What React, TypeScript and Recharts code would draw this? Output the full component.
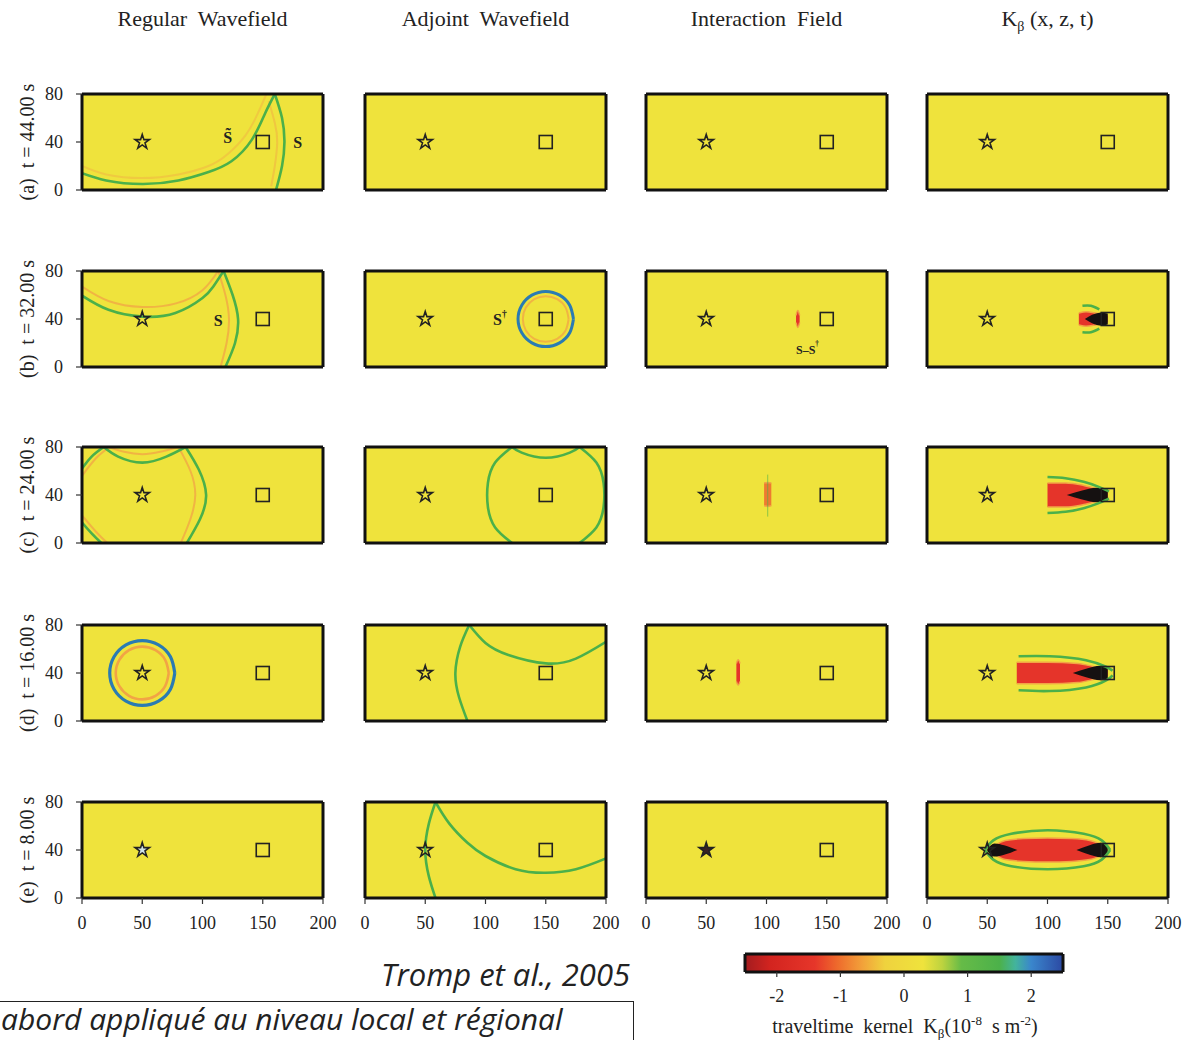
import React from 'react';
import { ComposedChart, Line, Area, Scatter, XAxis, YAxis, CartesianGrid } from 'recharts';

// axes of every panel (distance in km)
const xTicks = [0, 50, 100, 150, 200];
const yTicks = [0, 40, 80];
const colorbarTicks = [-2, -1, 0, 1, 2];

const columnTitles = ['Regular  Wavefield', 'Adjoint  Wavefield', 'Interaction  Field', 'K'];
const rowLabels = ['(a)  t = 44.00 s', '(b)  t = 32.00 s', '(c)  t = 24.00 s', '(d)  t = 16.00 s', '(e)  t = 8.00 s'];

const sourcePt = [{ x: 50, y: 40 }];
const receiverPt = [{ x: 150, y: 40 }];

// wavefronts, [x, z]
const regA_surf = [[0, 14], [20, 8], [50, 5], [80, 8], [105, 15], [124, 24], [141, 42], [152, 64], [160, 80]];
const regA_surfLag = [[0, 20], [20, 13], [50, 10], [80, 13], [105, 20], [121, 30], [136, 46], [146, 64], [153, 80]];
const regA_direct = [[160, 80], [166, 60], [168, 40], [166, 20], [161, 0]];
const regA_directLag = [[155, 74], [160, 56], [162, 40], [160, 20], [157, 3]];

const regB_surf = [[0, 59.5], [22, 47.7], [50, 42], [77.5, 45], [100, 57.5], [109, 67], [117.5, 80]];
const regB_surfLag = [[0, 67], [22, 55], [50, 50], [78, 53], [100, 64], [113, 80]];
const regB_direct = [[117.5, 80], [125, 60], [129.5, 40], [127, 20], [119, 0]];
const regB_directLag = [[113, 80], [119, 60], [122, 40], [120, 20], [115, 0]];

const regC_topLeft = [[0, 62], [8, 72], [18, 80]];
const regC_botLeft = [[0, 17], [8, 8], [16, 0]];
const regC_right = [[86, 80], [97, 61], [103, 40], [98, 20], [87, 0]];
const regC_surf = [[18, 80], [30, 72], [50, 67], [70, 72], [86, 80]];
const regC_rightLag = [[80, 80], [90, 60], [94, 40], [90, 20], [82, 0]];
const regC_topLeftLag = [[0, 56], [12, 71], [23, 80]];
const regC_botLeftLag = [[0, 23], [12, 9], [21, 0]];
const regC_surfLag = [[22, 80], [35, 76], [50, 74], [65, 76], [80, 80]];

const regD_outer = [[77, 40], [73.4, 53.5], [63.5, 63.4], [50, 67], [36.5, 63.4], [26.6, 53.5], [23, 40], [26.6, 26.5], [36.5, 16.6], [50, 13], [63.5, 16.6], [73.4, 26.5], [77, 40]];
const regD_inner = [[72, 40], [69, 51], [61, 59], [50, 62], [39, 59], [31, 51], [28, 40], [31, 29], [39, 21], [50, 18], [61, 21], [69, 29], [72, 40]];

const adjB_outer = [[173, 40], [169.9, 51.5], [161.5, 59.9], [150, 63], [138.5, 59.9], [130.1, 51.5], [127, 40], [130.1, 28.5], [138.5, 20.1], [150, 17], [161.5, 20.1], [169.9, 28.5], [173, 40]];
const adjB_inner = [[169, 40], [166.5, 49.5], [159.5, 56.5], [150, 59], [140.5, 56.5], [133.5, 49.5], [131, 40], [133.5, 30.5], [140.5, 23.5], [150, 21], [159.5, 23.5], [166.5, 30.5], [169, 40]];

const adjC_left = [[122, 0], [108, 13], [102, 30], [102, 50], [108, 67], [122, 80]];
const adjC_right = [[178, 80], [192, 67], [198, 50], [198, 30], [192, 13], [178, 0]];
const adjC_surf = [[122, 80], [130, 75.3], [150, 71], [170, 75.3], [178, 80]];

const adjD_direct = [[86.5, 80], [79, 62], [75, 40], [78, 20], [85, 0]];
const adjD_surf = [[86.5, 80], [100, 65], [119, 55], [150, 48], [175, 52], [200, 66]];

const adjE_direct = [[58.5, 80], [53, 62], [50, 40], [53, 18], [58.5, 0]];
const adjE_surf = [[58.5, 80], [70, 62], [85, 46], [100, 35], [125, 24], [150, 21], [175, 24], [200, 33]];

// interaction field and kernel: [x, zLow, zHigh]
const intB = [[124.5, 37, 43], [126, 33, 47], [127.5, 37, 43]];
const intC = [[98, 31, 50], [101, 30.5, 50.5], [104, 31, 50]];
const intC_tail = [[101, 22], [101, 57]];
const intD = [[75, 33, 48], [76.5, 30, 51], [78, 33, 48]];

const kerB_up = [[129, 51], [136, 51], [143, 48]];
const kerB_lo = [[129, 29], [136, 29], [143, 32]];
const kerB_red = [[126, 35, 45], [132, 34, 46], [140, 35, 45], [150, 37, 43]];
const kerB_black = [[131, 40, 40], [137, 36.5, 43.5], [145, 34.5, 45.5], [150, 35.5, 44.5]];

const kerC_up = [[100, 55], [115, 54], [130, 51], [142, 47], [151, 43]];
const kerC_lo = [[100, 25], [115, 26], [130, 29], [142, 33], [151, 37]];
const kerC_red = [[100, 30, 50], [115, 30, 50], [130, 32, 48], [142, 35, 45], [150, 37, 43]];
const kerC_black = [[116, 40, 40], [128, 36.5, 43.5], [141, 34, 46], [150, 35.5, 44.5]];

const kerD_up = [[76, 54], [102, 54], [132, 50.7], [149, 45], [154, 42]];
const kerD_lo = [[76, 25.6], [102, 25], [132, 28], [149, 34], [154, 38]];
const kerD_red = [[74.5, 31, 49], [100, 31, 49], [125, 32, 48], [140, 35, 45], [150, 37, 43]];
const kerD_black = [[121, 40, 40], [132, 36.5, 43.5], [144, 34, 46], [150, 35.5, 44.5]];

const kerE_up = [[48, 40], [55, 48], [70, 53.5], [100, 56.5], [130, 53.5], [145, 48], [152, 40]];
const kerE_lo = [[48, 40], [55, 32], [70, 26.5], [100, 24], [130, 26.5], [145, 32], [152, 40]];
const kerE_red = [[55, 37, 43], [65, 32, 48], [80, 30.5, 49.5], [100, 30, 50], [120, 30.5, 49.5], [135, 32, 48], [148, 37, 43]];
const kerE_blackL = [[50, 39, 41], [56, 34.5, 45.5], [64, 36, 44], [75, 40, 40]];
const kerE_blackR = [[124, 40, 40], [135, 36, 44], [144, 34, 46], [150, 37, 43]];

// colour scale of the traveltime kernel
const cbarStops = [
  [-2.5, '#a31c1f'], [-2.1, '#d3241f'], [-1.4, '#e6362a'], [-1.05, '#ee6a2c'], [-0.65, '#f2a23a'],
  [-0.3, '#efd23e'], [0.3, '#efe33c'], [0.6, '#bdd33f'], [0.9, '#66bb47'], [1.5, '#4cb14a'],
  [1.75, '#43b49c'], [2.0, '#3a86cc'], [2.5, '#2c49a3'],
];

const YELLOW = '#efe33c';
const G = '#4bb04a';
const OR = '#f2a445';
const BL = '#2a7bb3';
const RD = '#e5342a';
const BK = '#151111';

type Curve = { d: number[][]; c: string; w?: number; o?: number };
type Band = { d: number[][]; fill: string; stroke?: string; type?: string };
type Tag = { x: number; y: number; t: string; sup?: string; size?: number };
type Spec = { curves: Curve[]; bands: Band[]; tags: Tag[]; starFill?: string };

const lag = (d: number[][], o = 0.75): Curve => ({ d, c: OR, w: 2, o });
const front = (d: number[][], c = G): Curve => ({ d, c, w: 2.6 });

const panels: Spec[][] = [
  [
    { curves: [lag(regA_surfLag, 0.4), lag(regA_directLag, 0.45), front(regA_surf), front(regA_direct)], bands: [], tags: [{ x: 121, y: 44, t: 'S\u0303' }, { x: 179, y: 40, t: 'S' }] },
    { curves: [], bands: [], tags: [] },
    { curves: [], bands: [], tags: [] },
    { curves: [], bands: [], tags: [] },
  ],
  [
    { curves: [lag(regB_surfLag), lag(regB_directLag), front(regB_surf), front(regB_direct)], bands: [], tags: [{ x: 113, y: 39, t: 'S' }] },
    { curves: [lag(adjB_inner), { d: adjB_outer, c: BL, w: 3 }], bands: [], tags: [{ x: 112, y: 40, t: 'S', sup: '\u2020' }] },
    { curves: [], bands: [{ d: intB, fill: RD, stroke: OR }], tags: [{ x: 134, y: 14, t: 'S\u2013S', sup: '\u2020', size: 12 }] },
    { curves: [front(kerB_up), front(kerB_lo)], bands: [{ d: kerB_red, fill: RD, stroke: OR }, { d: kerB_black, fill: BK }], tags: [] },
  ],
  [
    { curves: [lag(regC_rightLag), lag(regC_topLeftLag), lag(regC_botLeftLag), lag(regC_surfLag), front(regC_topLeft), front(regC_botLeft), front(regC_right), front(regC_surf)], bands: [], tags: [] },
    { curves: [front(adjC_left), front(adjC_right), front(adjC_surf)], bands: [], tags: [] },
    { curves: [{ d: intC_tail, c: G, w: 1, o: 0.6 }], bands: [{ d: intC, fill: '#ee7a30', stroke: OR, type: 'linear' }], tags: [] },
    { curves: [front(kerC_up), front(kerC_lo)], bands: [{ d: kerC_red, fill: RD, stroke: OR }, { d: kerC_black, fill: BK }], tags: [] },
  ],
  [
    { curves: [{ d: regD_inner, c: OR, w: 2.6 }, { d: regD_outer, c: BL, w: 3.2 }], bands: [], tags: [] },
    { curves: [front(adjD_direct), front(adjD_surf)], bands: [], tags: [] },
    { curves: [], bands: [{ d: intD, fill: RD, stroke: OR }], tags: [] },
    { curves: [front(kerD_up), front(kerD_lo)], bands: [{ d: kerD_red, fill: RD, stroke: OR }, { d: kerD_black, fill: BK }], tags: [] },
  ],
  [
    { curves: [], bands: [], tags: [], starFill: '#cfe2e6' },
    { curves: [front(adjE_direct), front(adjE_surf)], bands: [], tags: [] },
    { curves: [], bands: [], tags: [], starFill: '#3a2222' },
    { curves: [front(kerE_up), front(kerE_lo)], bands: [{ d: kerE_red, fill: RD, stroke: OR }, { d: kerE_blackL, fill: BK }, { d: kerE_blackR, fill: BK }], tags: [] },
  ],
];

const colLefts = [82, 365, 646, 927];
const rowTops = [94, 271, 447, 625, 802];
const PW = 241;
const PH = 96;
const YL = 50;
const YR = 24;
const XT = 16;
const XB = 36;

const SERIF = '"Liberation Serif", "DejaVu Serif", serif';
const SANS = '"Open Sans", sans-serif';
const frame = { stroke: '#111', strokeWidth: 3 };
const tickLn = { stroke: '#333', strokeWidth: 1.2 };
const tickFont = { fill: '#222', fontSize: 18, fontFamily: SERIF };

const pts = (d: number[][]) => d.map(([x, y]) => ({ x, y }));
const band = (d: number[][]) => d.map(([x, lo, hi]) => ({ x, v: [lo, hi] }));

const TagShape = (p: any) => {
  const t: Tag = p.payload;
  return (
    <text x={p.cx} y={p.cy} textAnchor="middle" dominantBaseline="central" fontFamily={SERIF} fontWeight="bold" fontSize={t.size ?? 16} fill="#222">
      {t.t}
      {t.sup ? <tspan dy={-6} fontSize={(t.size ?? 16) * 0.6}>{t.sup}</tspan> : null}
    </text>
  );
};

const SquareShape = (p: any) => (
  <rect x={p.cx - 6.5} y={p.cy - 6.5} width={13} height={13} fill="none" stroke="#222" strokeWidth={1.6} />
);

function Panel({ row, col }: { row: number; col: number }) {
  const spec = panels[row][col];
  const showX = row === 4;
  const showY = col === 0;
  return (
    <div style={{ position: 'absolute', left: colLefts[col] - YL, top: rowTops[row] - XT }}>
      <ComposedChart width={PW + YL + YR} height={PH + XT + XB} margin={{ top: 0, right: 0, bottom: 0, left: 0 }}>
        <CartesianGrid horizontal={false} vertical={false} fill={YELLOW} fillOpacity={1} />
        <XAxis dataKey="x" type="number" domain={[0, 200]} ticks={xTicks} allowDataOverflow interval={0} height={XB}
          axisLine={frame} tickLine={tickLn} tickSize={6} tickMargin={12} tick={showX ? tickFont : false} />
        <XAxis xAxisId="t" orientation="top" type="number" domain={[0, 200]} ticks={xTicks} allowDataOverflow interval={0} height={XT}
          axisLine={frame} tickLine={tickLn} tickSize={6} tick={false} />
        <YAxis dataKey="y" type="number" domain={[0, 80]} ticks={yTicks} allowDataOverflow interval={0} width={YL}
          axisLine={frame} tickLine={tickLn} tickSize={6} tickMargin={13} tick={showY ? tickFont : false} />
        <YAxis yAxisId="r" orientation="right" type="number" domain={[0, 80]} ticks={yTicks} allowDataOverflow interval={0} width={YR}
          axisLine={frame} tickLine={tickLn} tickSize={6} tick={false} />
        {spec.bands.map((b, i) => (
          <Area key={'b' + i} data={band(b.d)} dataKey="v" type={(b.type as any) ?? 'monotone'} fill={b.fill} fillOpacity={1}
            stroke={b.stroke ?? 'none'} strokeWidth={b.stroke ? 1.5 : 0} dot={false} activeDot={false} isAnimationActive={false} />
        ))}
        {spec.curves.map((c, i) => (
          <Line key={'c' + i} data={pts(c.d)} dataKey="y" type="natural" stroke={c.c} strokeWidth={c.w ?? 2.5}
            strokeOpacity={c.o ?? 1} dot={false} activeDot={false} isAnimationActive={false} />
        ))}
        <Scatter data={sourcePt} shape="star" fill={spec.starFill ?? 'none'} stroke="#222" strokeWidth={1.6} isAnimationActive={false} />
        <Scatter data={receiverPt} shape={SquareShape} isAnimationActive={false} />
        {spec.tags.length > 0 && <Scatter data={spec.tags} shape={TagShape} isAnimationActive={false} />}
      </ComposedChart>
    </div>
  );
}

function Colorbar() {
  return (
    <div style={{ position: 'absolute', left: 743, top: 952 }}>
      <ComposedChart width={322} height={54} margin={{ top: 0, right: 0, bottom: 0, left: 0 }}>
        <defs>
          <linearGradient id="cbarGrad" x1="0" y1="0" x2="1" y2="0">
            {cbarStops.map(([v, c]) => (
              <stop key={String(v)} offset={`${(((v as number) + 2.5) / 5) * 100}%`} stopColor={c as string} />
            ))}
          </linearGradient>
        </defs>
        <CartesianGrid horizontal={false} vertical={false} fill="url(#cbarGrad)" fillOpacity={1} />
        <XAxis dataKey="x" type="number" domain={[-2.5, 2.5]} ticks={colorbarTicks} allowDataOverflow interval={0} height={34}
          axisLine={frame} tickLine={tickLn} tickSize={5} tickMargin={12} tick={{ fill: '#222', fontSize: 18, fontFamily: SERIF }} />
        <XAxis xAxisId="t" orientation="top" type="number" domain={[-2.5, 2.5]} allowDataOverflow height={2} axisLine={frame} tickLine={false} tick={false} />
        <YAxis type="number" domain={[0, 1]} allowDataOverflow width={2} axisLine={frame} tickLine={false} tick={false} />
        <YAxis yAxisId="r" orientation="right" type="number" domain={[0, 1]} allowDataOverflow width={2} axisLine={frame} tickLine={false} tick={false} />
      </ComposedChart>
    </div>
  );
}

export default function App() {
  return (
    <div style={{ position: 'absolute', left: 0, top: 0, width: 1199, height: 1040, background: '#fff', overflow: 'hidden', fontFamily: SERIF, color: '#222' }}>
      {columnTitles.map((t, i) => (
        <div key={t} style={{ position: 'absolute', left: colLefts[i] - 80, width: PW + 160, top: 6, textAlign: 'center', fontSize: 22, whiteSpace: 'pre' }}>
          {i === 3 ? (
            <span>K<sub style={{ fontSize: 14 }}>{'\u03b2'}</sub> (x, z, t)</span>
          ) : t}
        </div>
      ))}
      {rowLabels.map((t, i) => (
        <div key={t} style={{ position: 'absolute', left: 27 - 80, top: rowTops[i] + PH / 2 - 12, width: 160, height: 24, lineHeight: '24px', textAlign: 'center', fontSize: 20, whiteSpace: 'pre', transform: 'rotate(-90deg)' }}>
          {t}
        </div>
      ))}
      {panels.map((r, ri) => r.map((_, ci) => <Panel key={ri + '-' + ci} row={ri} col={ci} />))}
      <Colorbar />
      <div style={{ position: 'absolute', left: 705, width: 400, top: 1013, textAlign: 'center', fontSize: 20, whiteSpace: 'pre' }}>
        {'traveltime  kernel  K'}<sub style={{ fontSize: 13 }}>{'\u03b2'}</sub>{'(10'}<sup style={{ fontSize: 13 }}>-8</sup>{'  s m'}<sup style={{ fontSize: 13 }}>-2</sup>{')'}
      </div>
      <div style={{ position: 'absolute', left: 381, top: 955, fontFamily: SANS, fontStyle: 'italic', fontSize: 31, lineHeight: '38px' }}>
        Tromp et al., 2005
      </div>
      <div style={{ position: 'absolute', left: 0, top: 1001, width: 633, height: 60, borderTop: '1.5px solid #222', borderRight: '1.5px solid #222' }} />
      <div style={{ position: 'absolute', left: 1, top: 1001, fontFamily: SANS, fontStyle: 'italic', fontSize: 30, lineHeight: '36px', whiteSpace: 'pre' }}>
        abord appliqué au niveau local et régional
      </div>
    </div>
  );
}
